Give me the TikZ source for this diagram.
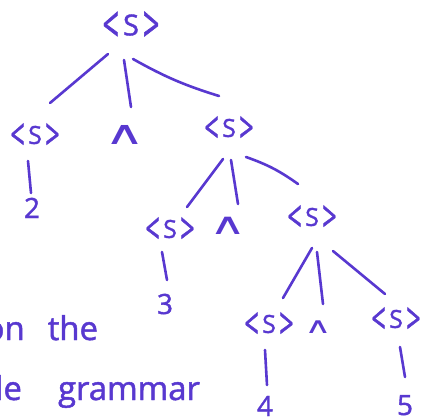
\documentclass[tikz,border=0pt]{standalone}
\usepackage{fontspec}
\usepackage{graphicx}
\setmainfont{Open Sans}
% pen-weight lettering
\newfontfamily\hand{Open Sans}[FakeBold=1.4]
\newfontfamily\opfont{DejaVu Sans}
\definecolor{inkc}{RGB}{88,56,208}
% a nonterminal <S> with brackets stretched to the height of the S
\newcommand\lbr{\raisebox{-0.24em}{\scalebox{1}[1.75]{<}}}
\newcommand\rbr{\raisebox{-0.24em}{\scalebox{1}[1.75]{>}}}
\newcommand\nonterm{\lbr\kern0.14em S\kern0.14em\rbr}
\newcommand\caret{\scalebox{1.7}[1]{∧}}
\begin{document}
\begin{tikzpicture}[x=1bp,y=1bp,
  ink/.style={text=inkc, inner sep=0pt, outer sep=0pt, anchor=center, text depth=0pt},
  nt/.style={ink, font=\hand\fontsize{25}{25}\selectfont, text height=17.8bp},
  ntroot/.style={ink, font=\hand\fontsize{29}{29}\selectfont, text height=20.7bp},
  op/.style={ink, font=\opfont\fontsize{#1}{#1}\selectfont, text height=0.46*#1 bp},
  leaf/.style={ink, font=\hand\fontsize{28}{28}\selectfont, text height=20bp},
  branch/.style={draw=inkc, line width=2.6bp, line cap=round},
  note/.style={text=inkc, inner sep=0pt, outer sep=0pt, anchor=base east,
    font=\hand\fontsize{33}{33}\selectfont},
]
\useasboundingbox[fill=white] (0,0) rectangle (421,417);

% tree nodes
\node[ntroot] (root) at (131,392) {\nonterm};

\node[nt] (l1a) at (35,282) {\nonterm};
\node[op=33] (l1b) at (125,280) {\caret};
\node[nt] (l1c) at (229,289) {\nonterm};
\node[leaf] (n2) at (32,209) {2};

\node[nt] (l2a) at (170,188) {\nonterm};
\node[op=30] (l2b) at (228,189) {\caret};
\node[nt] (l2c) at (312,200) {\nonterm};
\node[leaf] (n3) at (165,113) {3};

\node[nt] (l3a) at (269,93) {\nonterm};
\node[op=22] (l3b) at (318,89) {\caret};
\node[nt] (l3c) at (396,98) {\nonterm};
\node[leaf] (n4) at (265,11) {4};
\node[leaf] (n5) at (405,12) {5};

% branches
\draw[branch] ([shift={(-23,-29)}]root.center) -- ([shift={(15,32)}]l1a.center);
\draw[branch] ([shift={(-7,-35)}]root.center) -- ([shift={(6,30)}]l1b.center);
\draw[branch] ([shift={(2,-34)}]root.center) to[bend right=6] ([shift={(-10,32)}]l1c.center);
\draw[branch] ([shift={(-7,-26)}]l1a.center) -- ([shift={(-1,15)}]n2.center);

\draw[branch] ([shift={(-6,-31)}]l1c.center) -- ([shift={(17,22)}]l2a.center);
\draw[branch] ([shift={(2,-32)}]l1c.center) -- ([shift={(10,24)}]l2b.center);
\draw[branch] ([shift={(17,-29)}]l1c.center) to[bend left=8] ([shift={(-14,33)}]l2c.center);
\draw[branch] ([shift={(-8,-23)}]l2a.center) -- ([shift={(2,24)}]n3.center);

\draw[branch] ([shift={(0,-31)}]l2c.center) -- ([shift={(14,26)}]l3a.center);
\draw[branch] ([shift={(5,-35)}]l2c.center) -- ([shift={(5,24)}]l3b.center);
\draw[branch] ([shift={(21,-34)}]l2c.center) -- ([shift={(-11,25)}]l3c.center);
\draw[branch] ([shift={(-4,-26)}]l3a.center) -- ([shift={(2,21)}]n4.center);
\draw[branch] ([shift={(4,-28)}]l3c.center) -- ([shift={(-0,28)}]n5.center);

% handwritten notes running off the left edge
\node[note] (noteA) at (98,77) {on\hspace{0.7em}the};
\node[note] (noteB) at (200,17) {le\hspace{1.1em}grammar};
\end{tikzpicture}
\end{document}
